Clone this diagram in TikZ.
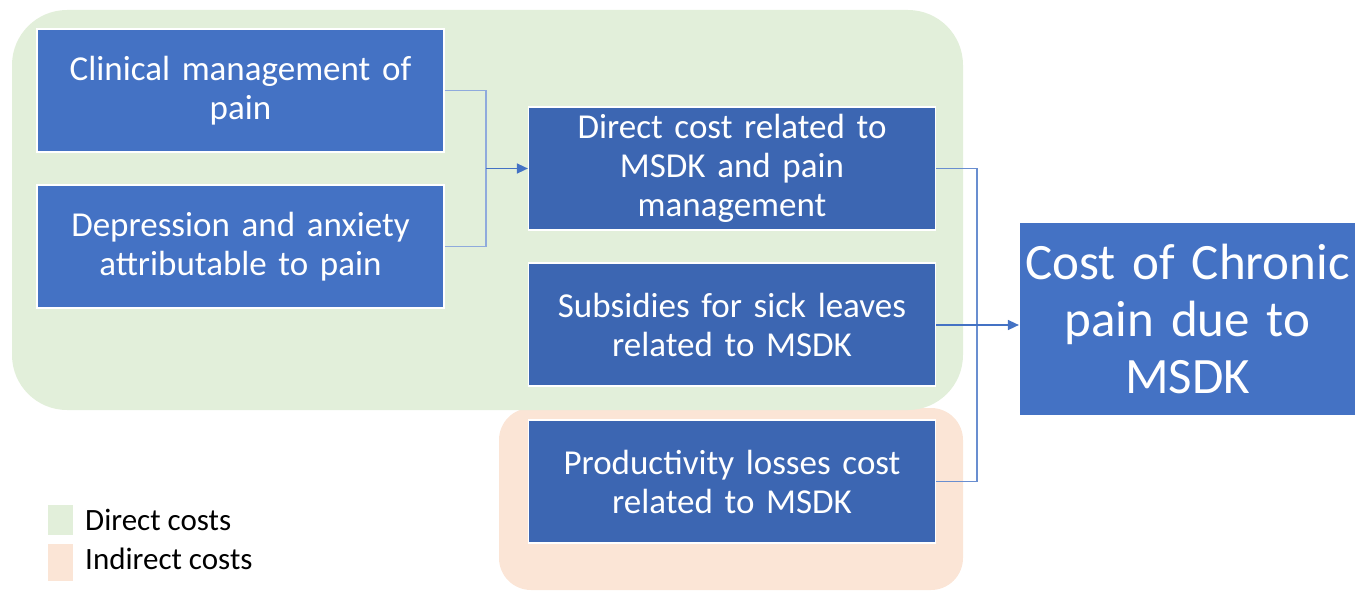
\documentclass[tikz,border=0pt]{standalone}
\usepackage{fontspec}
\setmainfont{Carlito}
\usetikzlibrary{arrows.meta}
\definecolor{directbg}{HTML}{E2EFDA}
\definecolor{indirectbg}{HTML}{FBE5D6}
\definecolor{boxlight}{HTML}{4472C4}
\definecolor{boxdark}{HTML}{3C66B2}
\definecolor{linkline}{HTML}{8FAADC}
\definecolor{arrowline}{HTML}{4472C4}
\tikzset{
  costbox/.style={draw=white, line width=1.2pt, fill=#1, text=white, align=center,
    minimum width=407pt, minimum height=123pt, inner sep=0pt, text width=400pt,
    font=\fontsize{35}{39}\selectfont},
  link/.style={draw=linkline, line width=1.3pt},
  rlink/.style={draw=arrowline!80, line width=1.3pt},
  arr/.style={draw=arrowline, line width=1.5pt, -{Triangle[length=11pt,width=10pt]}},
  legendtext/.style={anchor=west, font=\fontsize{31}{34}\selectfont, text=black, inner sep=0pt}
}
\begin{document}
\begin{tikzpicture}[x=1pt,y=-1pt]
  \useasboundingbox (0,0) rectangle (1369,594);
  % cost-type regions
  \fill[indirectbg, rounded corners=32pt] (499,408) rectangle (963,590);
  \fill[directbg, rounded corners=55pt] (12,10) rectangle (963,410);
  % cost components
  \node[costbox=boxlight] (clin) at (240.5,90.5) {Clinical management of\\pain};
  \node[costbox=boxlight] (depr) at (240.5,246.5) {Depression and anxiety\\attributable to pain};
  \node[costbox=boxdark] (direct) at (732,168.5) {Direct cost related to\\MSDK and pain\\management};
  \node[costbox=boxdark] (subs) at (732,324.5) {Subsidies for sick leaves\\related to MSDK};
  \node[costbox=boxdark] (prod) at (732,481.5) {Productivity losses cost\\related to MSDK};
  \node[draw=white, line width=1.2pt, fill=boxlight, text=white, align=center,
        minimum width=336pt, minimum height=194pt, inner sep=0pt, text width=336pt,
        font=\fontsize{51}{57}\selectfont] (total) at (1187.5,319) {Cost of Chronic\\pain due to\\MSDK};
  % connectors
  \coordinate (jl) at (486,168.5);
  \coordinate (jr) at (977,325);
  \draw[link] (clin.east) -| (jl) |- (depr.east);
  \draw[arr] (jl) -- (direct.west);
  \draw[rlink] (direct.east) -| (jr) |- (prod.east);
  \draw[arr] (subs.east |- jr) -- (jr -| total.west);
  % legend
  \fill[directbg] (48,505) rectangle (73,535) node[legendtext, xshift=12pt, yshift=15pt] (ldir) {Direct costs};
  \fill[indirectbg] (48,544) rectangle (73,581) node[legendtext, xshift=12pt, yshift=22pt] (lind) {Indirect costs};
\end{tikzpicture}
\end{document}
